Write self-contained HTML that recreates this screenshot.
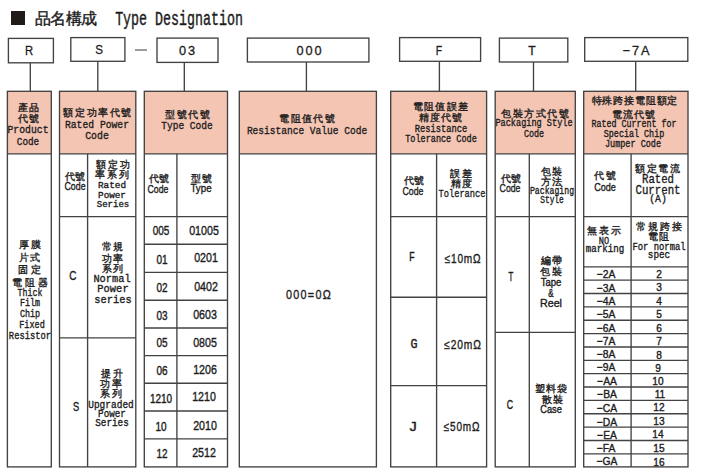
<!DOCTYPE html>
<html><head><meta charset="utf-8"><style>
html,body{margin:0;padding:0;background:#fff;width:723px;height:475px;overflow:hidden}
#wrap{position:relative;width:723px;height:475px}
svg{position:absolute;left:0;top:0}
.t{position:absolute;white-space:nowrap;line-height:1;color:#1c1c1c;transform-origin:50% 50%}
.sq{position:absolute;left:11px;top:11px;width:14px;height:14px;background:#201a18}
</style></head><body><div id="wrap">
<svg width="723" height="475" viewBox="0 0 723 475">
<rect x="8.4" y="38.4" width="45.0" height="24.4" fill="none" stroke="#424242" stroke-width="1.35"/>
<line x1="30.3" y1="62.8" x2="30.3" y2="91.3" stroke="#424242" stroke-width="1.35"/>
<rect x="70.8" y="37.6" width="54.1" height="23.7" fill="none" stroke="#424242" stroke-width="1.35"/>
<line x1="97.8" y1="61.3" x2="97.8" y2="91.3" stroke="#424242" stroke-width="1.35"/>
<rect x="157" y="38.1" width="61" height="24.3" fill="none" stroke="#424242" stroke-width="1.35"/>
<line x1="184.3" y1="62.4" x2="184.3" y2="91.3" stroke="#424242" stroke-width="1.35"/>
<rect x="247.4" y="38.1" width="121.5" height="23.9" fill="none" stroke="#424242" stroke-width="1.35"/>
<line x1="306.4" y1="62.0" x2="306.4" y2="91.3" stroke="#424242" stroke-width="1.35"/>
<rect x="399.6" y="37.6" width="81.0" height="23.7" fill="none" stroke="#424242" stroke-width="1.35"/>
<line x1="439.4" y1="61.3" x2="439.4" y2="91.3" stroke="#424242" stroke-width="1.35"/>
<rect x="499.4" y="38.1" width="68.4" height="23.9" fill="none" stroke="#424242" stroke-width="1.35"/>
<line x1="533.5" y1="62.0" x2="533.5" y2="91.3" stroke="#424242" stroke-width="1.35"/>
<rect x="584.7" y="37.6" width="103.1" height="23.7" fill="none" stroke="#424242" stroke-width="1.35"/>
<line x1="635.7" y1="61.3" x2="635.7" y2="91.3" stroke="#424242" stroke-width="1.35"/>
<line x1="135" y1="50" x2="147" y2="50" stroke="#666" stroke-width="1.3"/>
<rect x="7.4" y="91.3" width="43.9" height="62.5" fill="#f4c5b3"/>
<rect x="7.4" y="91.3" width="43.9" height="375.6" fill="none" stroke="#424242" stroke-width="1.35"/>
<line x1="7.4" y1="153.8" x2="51.3" y2="153.8" stroke="#424242" stroke-width="1.35"/>
<rect x="59.5" y="91.3" width="76.3" height="62.5" fill="#f4c5b3"/>
<rect x="59.5" y="91.3" width="76.3" height="375.6" fill="none" stroke="#424242" stroke-width="1.35"/>
<line x1="59.5" y1="153.8" x2="135.8" y2="153.8" stroke="#424242" stroke-width="1.35"/>
<line x1="87.6" y1="153.8" x2="87.6" y2="466.9" stroke="#424242" stroke-width="1.35"/>
<line x1="59.5" y1="216.6" x2="135.8" y2="216.6" stroke="#424242" stroke-width="1.35"/>
<rect x="144.3" y="91.3" width="83.2" height="62.5" fill="#f4c5b3"/>
<rect x="144.3" y="91.3" width="83.2" height="375.6" fill="none" stroke="#424242" stroke-width="1.35"/>
<line x1="144.3" y1="153.8" x2="227.5" y2="153.8" stroke="#424242" stroke-width="1.35"/>
<line x1="176.9" y1="153.8" x2="176.9" y2="466.9" stroke="#424242" stroke-width="1.35"/>
<line x1="144.3" y1="216.6" x2="227.5" y2="216.6" stroke="#424242" stroke-width="1.35"/>
<rect x="239.3" y="91.3" width="137.1" height="62.5" fill="#f4c5b3"/>
<rect x="239.3" y="91.3" width="137.1" height="375.6" fill="none" stroke="#424242" stroke-width="1.35"/>
<line x1="239.3" y1="153.8" x2="376.4" y2="153.8" stroke="#424242" stroke-width="1.35"/>
<rect x="390.7" y="91.3" width="95.9" height="62.5" fill="#f4c5b3"/>
<rect x="390.7" y="91.3" width="95.9" height="375.6" fill="none" stroke="#424242" stroke-width="1.35"/>
<line x1="390.7" y1="153.8" x2="486.6" y2="153.8" stroke="#424242" stroke-width="1.35"/>
<line x1="436.6" y1="153.8" x2="436.6" y2="466.9" stroke="#424242" stroke-width="1.35"/>
<line x1="390.7" y1="216.6" x2="486.6" y2="216.6" stroke="#424242" stroke-width="1.35"/>
<rect x="495.2" y="91.3" width="80.1" height="62.5" fill="#f4c5b3"/>
<rect x="495.2" y="91.3" width="80.1" height="375.6" fill="none" stroke="#424242" stroke-width="1.35"/>
<line x1="495.2" y1="153.8" x2="575.3" y2="153.8" stroke="#424242" stroke-width="1.35"/>
<line x1="529.3" y1="153.8" x2="529.3" y2="466.9" stroke="#424242" stroke-width="1.35"/>
<line x1="495.2" y1="216.6" x2="575.3" y2="216.6" stroke="#424242" stroke-width="1.35"/>
<rect x="583.7" y="91.3" width="104.3" height="62.5" fill="#f4c5b3"/>
<rect x="583.7" y="91.3" width="104.3" height="375.6" fill="none" stroke="#424242" stroke-width="1.35"/>
<line x1="583.7" y1="153.8" x2="688.0" y2="153.8" stroke="#424242" stroke-width="1.35"/>
<line x1="631.1" y1="153.8" x2="631.1" y2="466.9" stroke="#424242" stroke-width="1.35"/>
<line x1="583.7" y1="216.6" x2="688.0" y2="216.6" stroke="#424242" stroke-width="1.35"/>
<line x1="59.5" y1="337.8" x2="135.8" y2="337.8" stroke="#424242" stroke-width="1.35"/>
<line x1="144.3" y1="244.2" x2="227.5" y2="244.2" stroke="#424242" stroke-width="1.35"/>
<line x1="144.3" y1="272.4" x2="227.5" y2="272.4" stroke="#424242" stroke-width="1.35"/>
<line x1="144.3" y1="300.2" x2="227.5" y2="300.2" stroke="#424242" stroke-width="1.35"/>
<line x1="144.3" y1="328.0" x2="227.5" y2="328.0" stroke="#424242" stroke-width="1.35"/>
<line x1="144.3" y1="355.6" x2="227.5" y2="355.6" stroke="#424242" stroke-width="1.35"/>
<line x1="144.3" y1="383.2" x2="227.5" y2="383.2" stroke="#424242" stroke-width="1.35"/>
<line x1="144.3" y1="411.0" x2="227.5" y2="411.0" stroke="#424242" stroke-width="1.35"/>
<line x1="144.3" y1="438.8" x2="227.5" y2="438.8" stroke="#424242" stroke-width="1.35"/>
<line x1="390.7" y1="297.2" x2="486.6" y2="297.2" stroke="#424242" stroke-width="1.35"/>
<line x1="390.7" y1="385.6" x2="486.6" y2="385.6" stroke="#424242" stroke-width="1.35"/>
<line x1="495.2" y1="332.3" x2="575.3" y2="332.3" stroke="#424242" stroke-width="1.35"/>
<line x1="583.7" y1="266.8" x2="688.0" y2="266.8" stroke="#424242" stroke-width="1.35"/>
<line x1="583.7" y1="280.16" x2="688.0" y2="280.16" stroke="#424242" stroke-width="1.35"/>
<line x1="583.7" y1="293.52" x2="688.0" y2="293.52" stroke="#424242" stroke-width="1.35"/>
<line x1="583.7" y1="306.88" x2="688.0" y2="306.88" stroke="#424242" stroke-width="1.35"/>
<line x1="583.7" y1="320.24" x2="688.0" y2="320.24" stroke="#424242" stroke-width="1.35"/>
<line x1="583.7" y1="333.6" x2="688.0" y2="333.6" stroke="#424242" stroke-width="1.35"/>
<line x1="583.7" y1="346.96" x2="688.0" y2="346.96" stroke="#424242" stroke-width="1.35"/>
<line x1="583.7" y1="360.32" x2="688.0" y2="360.32" stroke="#424242" stroke-width="1.35"/>
<line x1="583.7" y1="373.68" x2="688.0" y2="373.68" stroke="#424242" stroke-width="1.35"/>
<line x1="583.7" y1="387.04" x2="688.0" y2="387.04" stroke="#424242" stroke-width="1.35"/>
<line x1="583.7" y1="400.4" x2="688.0" y2="400.4" stroke="#424242" stroke-width="1.35"/>
<line x1="583.7" y1="413.76" x2="688.0" y2="413.76" stroke="#424242" stroke-width="1.35"/>
<line x1="583.7" y1="427.12" x2="688.0" y2="427.12" stroke="#424242" stroke-width="1.35"/>
<line x1="583.7" y1="440.48" x2="688.0" y2="440.48" stroke="#424242" stroke-width="1.35"/>
<line x1="583.7" y1="453.84" x2="688.0" y2="453.84" stroke="#424242" stroke-width="1.35"/>
</svg>
<div class="sq"></div>
<div class="t" id="t0" style="left:65.73px;top:10.32px;font-size:16.20px;transform:translateX(-50%) scaleX(1.0000);font-family:'Liberation Sans', sans-serif;font-weight:normal;letter-spacing:-0.47px;-webkit-text-stroke:0.4px #1c1c1c">品名構成</div>
<div class="t" id="t1" style="left:178.87px;top:9.52px;font-size:20.18px;transform:translateX(-50%) scaleX(0.6595);font-family:'Liberation Mono', monospace;font-weight:normal;-webkit-text-stroke:0.45px #1c1c1c">Type Designation</div>
<div class="t" id="t2" style="left:29.24px;top:44.28px;font-size:13.43px;transform:translateX(-50%) scaleX(0.8380);font-family:'Liberation Sans', sans-serif;font-weight:normal;-webkit-text-stroke:0.3px #1c1c1c">R</div>
<div class="t" id="t3" style="left:98.84px;top:43.25px;font-size:13.43px;transform:translateX(-50%) scaleX(0.8645);font-family:'Liberation Sans', sans-serif;font-weight:normal;-webkit-text-stroke:0.3px #1c1c1c">S</div>
<div class="t" id="t4" style="left:187.83px;top:43.94px;font-size:13.43px;transform:translateX(-50%) scaleX(0.9500);font-family:'Liberation Sans', sans-serif;font-weight:normal;letter-spacing:1.94px;-webkit-text-stroke:0.3px #1c1c1c">03</div>
<div class="t" id="t5" style="left:310.25px;top:44.11px;font-size:13.43px;transform:translateX(-50%) scaleX(0.9500);font-family:'Liberation Sans', sans-serif;font-weight:normal;letter-spacing:2.00px;-webkit-text-stroke:0.3px #1c1c1c">000</div>
<div class="t" id="t6" style="left:438.85px;top:43.95px;font-size:13.43px;transform:translateX(-50%) scaleX(0.7728);font-family:'Liberation Sans', sans-serif;font-weight:normal;-webkit-text-stroke:0.3px #1c1c1c">F</div>
<div class="t" id="t7" style="left:532.03px;top:44.16px;font-size:13.43px;transform:translateX(-50%) scaleX(0.8983);font-family:'Liberation Sans', sans-serif;font-weight:normal;-webkit-text-stroke:0.3px #1c1c1c">T</div>
<div class="t" id="t8" style="left:637.12px;top:43.71px;font-size:13.43px;transform:translateX(-50%) scaleX(0.9500);font-family:'Liberation Sans', sans-serif;font-weight:normal;letter-spacing:1.83px;-webkit-text-stroke:0.3px #1c1c1c">−7A</div>
<div class="t" id="t9" style="left:29.02px;top:103.02px;font-size:10.00px;transform:translateX(-50%) scaleX(1.0000);font-family:'Liberation Sans', sans-serif;font-weight:normal;letter-spacing:1.39px;-webkit-text-stroke:0.35px #1c1c1c">產品</div>
<div class="t" id="t10" style="left:29.00px;top:114.18px;font-size:10.00px;transform:translateX(-50%) scaleX(1.0000);font-family:'Liberation Sans', sans-serif;font-weight:normal;letter-spacing:0.61px;-webkit-text-stroke:0.35px #1c1c1c">代號</div>
<div class="t" id="t11" style="left:28.22px;top:125.32px;font-size:11.68px;transform:translateX(-50%) scaleX(0.8359);font-family:'Liberation Mono', monospace;font-weight:normal;-webkit-text-stroke:0.35px #1c1c1c">Product</div>
<div class="t" id="t12" style="left:28.25px;top:136.82px;font-size:11.68px;transform:translateX(-50%) scaleX(0.8016);font-family:'Liberation Mono', monospace;font-weight:normal;-webkit-text-stroke:0.35px #1c1c1c">Code</div>
<div class="t" id="t13" style="left:98.10px;top:108.00px;font-size:10.00px;transform:translateX(-50%) scaleX(1.0000);font-family:'Liberation Sans', sans-serif;font-weight:normal;letter-spacing:1.54px;-webkit-text-stroke:0.35px #1c1c1c">額定功率代號</div>
<div class="t" id="t14" style="left:97.06px;top:120.08px;font-size:11.68px;transform:translateX(-50%) scaleX(0.8310);font-family:'Liberation Mono', monospace;font-weight:normal;-webkit-text-stroke:0.35px #1c1c1c">Rated Power</div>
<div class="t" id="t15" style="left:97.00px;top:131.10px;font-size:11.68px;transform:translateX(-50%) scaleX(0.8469);font-family:'Liberation Mono', monospace;font-weight:normal;-webkit-text-stroke:0.35px #1c1c1c">Code</div>
<div class="t" id="t16" style="left:188.15px;top:110.24px;font-size:10.00px;transform:translateX(-50%) scaleX(1.0000);font-family:'Liberation Sans', sans-serif;font-weight:normal;letter-spacing:1.53px;-webkit-text-stroke:0.35px #1c1c1c">型號代號</div>
<div class="t" id="t17" style="left:187.39px;top:121.08px;font-size:11.68px;transform:translateX(-50%) scaleX(0.8189);font-family:'Liberation Mono', monospace;font-weight:normal;-webkit-text-stroke:0.35px #1c1c1c">Type Code</div>
<div class="t" id="t18" style="left:307.70px;top:113.75px;font-size:10.00px;transform:translateX(-50%) scaleX(1.0000);font-family:'Liberation Sans', sans-serif;font-weight:normal;letter-spacing:1.39px;-webkit-text-stroke:0.35px #1c1c1c">電阻值代號</div>
<div class="t" id="t19" style="left:307.37px;top:125.59px;font-size:11.68px;transform:translateX(-50%) scaleX(0.8174);font-family:'Liberation Mono', monospace;font-weight:normal;-webkit-text-stroke:0.35px #1c1c1c">Resistance Value Code</div>
<div class="t" id="t20" style="left:441.06px;top:102.06px;font-size:10.00px;transform:translateX(-50%) scaleX(1.0000);font-family:'Liberation Sans', sans-serif;font-weight:normal;letter-spacing:1.31px;-webkit-text-stroke:0.35px #1c1c1c">電阻值誤差</div>
<div class="t" id="t21" style="left:441.14px;top:113.39px;font-size:10.00px;transform:translateX(-50%) scaleX(1.0000);font-family:'Liberation Sans', sans-serif;font-weight:normal;letter-spacing:1.22px;-webkit-text-stroke:0.35px #1c1c1c">精度代號</div>
<div class="t" id="t22" style="left:440.61px;top:124.47px;font-size:10.24px;transform:translateX(-50%) scaleX(0.8541);font-family:'Liberation Mono', monospace;font-weight:normal;-webkit-text-stroke:0.35px #1c1c1c">Resistance</div>
<div class="t" id="t23" style="left:441.08px;top:134.08px;font-size:10.24px;transform:translateX(-50%) scaleX(0.8341);font-family:'Liberation Mono', monospace;font-weight:normal;-webkit-text-stroke:0.35px #1c1c1c">Tolerance Code</div>
<div class="t" id="t24" style="left:535.76px;top:108.62px;font-size:10.00px;transform:translateX(-50%) scaleX(1.0000);font-family:'Liberation Sans', sans-serif;font-weight:normal;letter-spacing:1.54px;-webkit-text-stroke:0.35px #1c1c1c">包裝方式代號</div>
<div class="t" id="t25" style="left:533.96px;top:118.29px;font-size:10.24px;transform:translateX(-50%) scaleX(0.8382);font-family:'Liberation Mono', monospace;font-weight:normal;-webkit-text-stroke:0.35px #1c1c1c">Packaging Style</div>
<div class="t" id="t26" style="left:534.03px;top:129.49px;font-size:10.24px;transform:translateX(-50%) scaleX(0.8200);font-family:'Liberation Mono', monospace;font-weight:normal;-webkit-text-stroke:0.35px #1c1c1c">Code</div>
<div class="t" id="t27" style="left:634.88px;top:96.47px;font-size:10.00px;transform:translateX(-50%) scaleX(1.0000);font-family:'Liberation Sans', sans-serif;font-weight:normal;letter-spacing:0.84px;-webkit-text-stroke:0.35px #1c1c1c">特殊跨接電阻額定</div>
<div class="t" id="t28" style="left:634.33px;top:109.59px;font-size:10.00px;transform:translateX(-50%) scaleX(1.0000);font-family:'Liberation Sans', sans-serif;font-weight:normal;letter-spacing:0.92px;-webkit-text-stroke:0.35px #1c1c1c">電流代號</div>
<div class="t" id="t29" style="left:633.87px;top:118.87px;font-size:10.24px;transform:translateX(-50%) scaleX(0.8118);font-family:'Liberation Mono', monospace;font-weight:normal;-webkit-text-stroke:0.35px #1c1c1c">Rated Current for</div>
<div class="t" id="t30" style="left:634.20px;top:129.31px;font-size:10.24px;transform:translateX(-50%) scaleX(0.8194);font-family:'Liberation Mono', monospace;font-weight:normal;-webkit-text-stroke:0.35px #1c1c1c">Special Chip</div>
<div class="t" id="t31" style="left:633.21px;top:138.82px;font-size:10.24px;transform:translateX(-50%) scaleX(0.8296);font-family:'Liberation Mono', monospace;font-weight:normal;-webkit-text-stroke:0.35px #1c1c1c">Jumper Code</div>
<div class="t" id="t32" style="left:75.32px;top:171.67px;font-size:10.00px;transform:translateX(-50%) scaleX(1.0000);font-family:'Liberation Sans', sans-serif;font-weight:normal;letter-spacing:0.61px;-webkit-text-stroke:0.35px #1c1c1c">代號</div>
<div class="t" id="t33" style="left:74.68px;top:180.91px;font-size:11.57px;transform:translateX(-50%) scaleX(0.7624);font-family:'Liberation Sans', sans-serif;font-weight:normal;-webkit-text-stroke:0.38px #1c1c1c">Code</div>
<div class="t" id="t34" style="left:113.82px;top:160.25px;font-size:10.00px;transform:translateX(-50%) scaleX(1.0000);font-family:'Liberation Sans', sans-serif;font-weight:normal;letter-spacing:2.10px;-webkit-text-stroke:0.35px #1c1c1c">額定功</div>
<div class="t" id="t35" style="left:113.25px;top:170.47px;font-size:10.00px;transform:translateX(-50%) scaleX(1.0000);font-family:'Liberation Sans', sans-serif;font-weight:normal;letter-spacing:1.99px;-webkit-text-stroke:0.35px #1c1c1c">率系列</div>
<div class="t" id="t36" style="left:112.47px;top:181.29px;font-size:9.41px;transform:translateX(-50%) scaleX(0.9926);font-family:'Liberation Mono', monospace;font-weight:normal;-webkit-text-stroke:0.35px #1c1c1c">Rated</div>
<div class="t" id="t37" style="left:112.42px;top:191.04px;font-size:9.41px;transform:translateX(-50%) scaleX(0.9863);font-family:'Liberation Mono', monospace;font-weight:normal;-webkit-text-stroke:0.35px #1c1c1c">Power</div>
<div class="t" id="t38" style="left:112.56px;top:199.77px;font-size:9.41px;transform:translateX(-50%) scaleX(0.9606);font-family:'Liberation Mono', monospace;font-weight:normal;-webkit-text-stroke:0.35px #1c1c1c">Series</div>
<div class="t" id="t39" style="left:159.33px;top:174.21px;font-size:10.00px;transform:translateX(-50%) scaleX(1.0000);font-family:'Liberation Sans', sans-serif;font-weight:normal;letter-spacing:0.61px;-webkit-text-stroke:0.35px #1c1c1c">代號</div>
<div class="t" id="t40" style="left:158.30px;top:183.62px;font-size:11.57px;transform:translateX(-50%) scaleX(0.7563);font-family:'Liberation Sans', sans-serif;font-weight:normal;-webkit-text-stroke:0.38px #1c1c1c">Code</div>
<div class="t" id="t41" style="left:201.53px;top:174.30px;font-size:10.00px;transform:translateX(-50%) scaleX(1.0000);font-family:'Liberation Sans', sans-serif;font-weight:normal;letter-spacing:0.80px;-webkit-text-stroke:0.35px #1c1c1c">型號</div>
<div class="t" id="t42" style="left:200.50px;top:183.20px;font-size:11.57px;transform:translateX(-50%) scaleX(0.8426);font-family:'Liberation Sans', sans-serif;font-weight:normal;-webkit-text-stroke:0.38px #1c1c1c">Type</div>
<div class="t" id="t43" style="left:414.15px;top:176.04px;font-size:10.00px;transform:translateX(-50%) scaleX(1.0000);font-family:'Liberation Sans', sans-serif;font-weight:normal;letter-spacing:0.61px;-webkit-text-stroke:0.35px #1c1c1c">代號</div>
<div class="t" id="t44" style="left:412.90px;top:186.17px;font-size:11.57px;transform:translateX(-50%) scaleX(0.7563);font-family:'Liberation Sans', sans-serif;font-weight:normal;-webkit-text-stroke:0.38px #1c1c1c">Code</div>
<div class="t" id="t45" style="left:461.67px;top:169.08px;font-size:10.00px;transform:translateX(-50%) scaleX(1.0000);font-family:'Liberation Sans', sans-serif;font-weight:normal;letter-spacing:1.16px;-webkit-text-stroke:0.35px #1c1c1c">誤差</div>
<div class="t" id="t46" style="left:461.52px;top:179.29px;font-size:10.00px;transform:translateX(-50%) scaleX(1.0000);font-family:'Liberation Sans', sans-serif;font-weight:normal;letter-spacing:0.77px;-webkit-text-stroke:0.35px #1c1c1c">精度</div>
<div class="t" id="t47" style="left:461.66px;top:189.26px;font-size:11.84px;transform:translateX(-50%) scaleX(0.7379);font-family:'Liberation Mono', monospace;font-weight:normal;-webkit-text-stroke:0.35px #1c1c1c">Tolerance</div>
<div class="t" id="t48" style="left:511.13px;top:173.90px;font-size:10.00px;transform:translateX(-50%) scaleX(1.0000);font-family:'Liberation Sans', sans-serif;font-weight:normal;letter-spacing:0.61px;-webkit-text-stroke:0.35px #1c1c1c">代號</div>
<div class="t" id="t49" style="left:510.23px;top:183.33px;font-size:11.57px;transform:translateX(-50%) scaleX(0.7505);font-family:'Liberation Sans', sans-serif;font-weight:normal;-webkit-text-stroke:0.38px #1c1c1c">Code</div>
<div class="t" id="t50" style="left:552.38px;top:166.75px;font-size:10.00px;transform:translateX(-50%) scaleX(1.0000);font-family:'Liberation Sans', sans-serif;font-weight:normal;letter-spacing:1.18px;-webkit-text-stroke:0.35px #1c1c1c">包裝</div>
<div class="t" id="t51" style="left:552.17px;top:177.10px;font-size:10.00px;transform:translateX(-50%) scaleX(1.0000);font-family:'Liberation Sans', sans-serif;font-weight:normal;letter-spacing:0.93px;-webkit-text-stroke:0.35px #1c1c1c">方法</div>
<div class="t" id="t52" style="left:551.85px;top:187.26px;font-size:10.02px;transform:translateX(-50%) scaleX(0.8148);font-family:'Liberation Mono', monospace;font-weight:normal;-webkit-text-stroke:0.35px #1c1c1c">Packaging</div>
<div class="t" id="t53" style="left:552.39px;top:195.79px;font-size:10.02px;transform:translateX(-50%) scaleX(0.7856);font-family:'Liberation Mono', monospace;font-weight:normal;-webkit-text-stroke:0.35px #1c1c1c">Style</div>
<div class="t" id="t54" style="left:605.80px;top:171.33px;font-size:10.00px;transform:translateX(-50%) scaleX(1.0000);font-family:'Liberation Sans', sans-serif;font-weight:normal;letter-spacing:1.51px;-webkit-text-stroke:0.35px #1c1c1c">代號</div>
<div class="t" id="t55" style="left:605.21px;top:181.78px;font-size:11.57px;transform:translateX(-50%) scaleX(0.7808);font-family:'Liberation Sans', sans-serif;font-weight:normal;-webkit-text-stroke:0.38px #1c1c1c">Code</div>
<div class="t" id="t56" style="left:658.25px;top:164.48px;font-size:10.00px;transform:translateX(-50%) scaleX(1.0000);font-family:'Liberation Sans', sans-serif;font-weight:normal;letter-spacing:1.53px;-webkit-text-stroke:0.35px #1c1c1c">額定電流</div>
<div class="t" id="t57" style="left:657.84px;top:174.37px;font-size:12.67px;transform:translateX(-50%) scaleX(0.8436);font-family:'Liberation Mono', monospace;font-weight:normal;-webkit-text-stroke:0.35px #1c1c1c">Rated</div>
<div class="t" id="t58" style="left:657.93px;top:184.63px;font-size:12.67px;transform:translateX(-50%) scaleX(0.8477);font-family:'Liberation Mono', monospace;font-weight:normal;-webkit-text-stroke:0.35px #1c1c1c">Current</div>
<div class="t" id="t59" style="left:657.80px;top:194.03px;font-size:10.50px;transform:translateX(-50%) scaleX(0.9327);font-family:'Liberation Mono', monospace;font-weight:normal;-webkit-text-stroke:0.35px #1c1c1c">(A)</div>
<div class="t" id="t60" style="left:30.97px;top:239.78px;font-size:10.00px;transform:translateX(-50%) scaleX(1.0000);font-family:'Liberation Sans', sans-serif;font-weight:normal;letter-spacing:2.30px;-webkit-text-stroke:0.35px #1c1c1c">厚膜</div>
<div class="t" id="t61" style="left:30.44px;top:252.77px;font-size:10.00px;transform:translateX(-50%) scaleX(1.0000);font-family:'Liberation Sans', sans-serif;font-weight:normal;letter-spacing:1.48px;-webkit-text-stroke:0.35px #1c1c1c">片式</div>
<div class="t" id="t62" style="left:31.26px;top:264.77px;font-size:10.00px;transform:translateX(-50%) scaleX(1.0000);font-family:'Liberation Sans', sans-serif;font-weight:normal;letter-spacing:3.39px;-webkit-text-stroke:0.35px #1c1c1c">固定</div>
<div class="t" id="t63" style="left:31.16px;top:277.97px;font-size:10.00px;transform:translateX(-50%) scaleX(1.0000);font-family:'Liberation Sans', sans-serif;font-weight:normal;letter-spacing:2.76px;-webkit-text-stroke:0.35px #1c1c1c">電阻器</div>
<div class="t" id="t64" style="left:29.83px;top:288.28px;font-size:10.47px;transform:translateX(-50%) scaleX(0.7913);font-family:'Liberation Mono', monospace;font-weight:normal;-webkit-text-stroke:0.35px #1c1c1c">Thick</div>
<div class="t" id="t65" style="left:30.27px;top:298.34px;font-size:10.47px;transform:translateX(-50%) scaleX(0.8024);font-family:'Liberation Mono', monospace;font-weight:normal;-webkit-text-stroke:0.35px #1c1c1c">Film</div>
<div class="t" id="t66" style="left:29.68px;top:308.73px;font-size:10.47px;transform:translateX(-50%) scaleX(0.8031);font-family:'Liberation Mono', monospace;font-weight:normal;-webkit-text-stroke:0.35px #1c1c1c">Chip</div>
<div class="t" id="t67" style="left:32.17px;top:319.99px;font-size:10.47px;transform:translateX(-50%) scaleX(0.8191);font-family:'Liberation Mono', monospace;font-weight:normal;-webkit-text-stroke:0.35px #1c1c1c">Fixed</div>
<div class="t" id="t68" style="left:29.74px;top:330.62px;font-size:10.47px;transform:translateX(-50%) scaleX(0.8408);font-family:'Liberation Mono', monospace;font-weight:normal;-webkit-text-stroke:0.35px #1c1c1c">Resistor</div>
<div class="t" id="t69" style="left:73.31px;top:270.25px;font-size:12.78px;transform:translateX(-50%) scaleX(0.7863);font-family:'Liberation Sans', sans-serif;font-weight:normal;-webkit-text-stroke:0.38px #1c1c1c">C</div>
<div class="t" id="t70" style="left:113.43px;top:241.65px;font-size:10.00px;transform:translateX(-50%) scaleX(1.0000);font-family:'Liberation Sans', sans-serif;font-weight:normal;letter-spacing:1.37px;-webkit-text-stroke:0.35px #1c1c1c">常規</div>
<div class="t" id="t71" style="left:113.37px;top:253.51px;font-size:10.00px;transform:translateX(-50%) scaleX(1.0000);font-family:'Liberation Sans', sans-serif;font-weight:normal;letter-spacing:1.54px;-webkit-text-stroke:0.35px #1c1c1c">功率</div>
<div class="t" id="t72" style="left:113.17px;top:263.89px;font-size:10.00px;transform:translateX(-50%) scaleX(1.0000);font-family:'Liberation Sans', sans-serif;font-weight:normal;letter-spacing:1.46px;-webkit-text-stroke:0.35px #1c1c1c">系列</div>
<div class="t" id="t73" style="left:112.38px;top:273.12px;font-size:11.46px;transform:translateX(-50%) scaleX(0.9022);font-family:'Liberation Mono', monospace;font-weight:normal;-webkit-text-stroke:0.35px #1c1c1c">Normal</div>
<div class="t" id="t74" style="left:113.15px;top:282.99px;font-size:11.46px;transform:translateX(-50%) scaleX(0.9098);font-family:'Liberation Mono', monospace;font-weight:normal;-webkit-text-stroke:0.35px #1c1c1c">Power</div>
<div class="t" id="t75" style="left:112.85px;top:293.93px;font-size:11.46px;transform:translateX(-50%) scaleX(0.9052);font-family:'Liberation Mono', monospace;font-weight:normal;-webkit-text-stroke:0.35px #1c1c1c">series</div>
<div class="t" id="t76" style="left:76.18px;top:400.97px;font-size:12.78px;transform:translateX(-50%) scaleX(0.7314);font-family:'Liberation Sans', sans-serif;font-weight:normal;-webkit-text-stroke:0.38px #1c1c1c">S</div>
<div class="t" id="t77" style="left:112.63px;top:368.95px;font-size:10.00px;transform:translateX(-50%) scaleX(1.0000);font-family:'Liberation Sans', sans-serif;font-weight:normal;letter-spacing:2.05px;-webkit-text-stroke:0.35px #1c1c1c">提升</div>
<div class="t" id="t78" style="left:111.95px;top:379.25px;font-size:10.00px;transform:translateX(-50%) scaleX(1.0000);font-family:'Liberation Sans', sans-serif;font-weight:normal;letter-spacing:1.54px;-webkit-text-stroke:0.35px #1c1c1c">功率</div>
<div class="t" id="t79" style="left:112.13px;top:389.07px;font-size:10.00px;transform:translateX(-50%) scaleX(1.0000);font-family:'Liberation Sans', sans-serif;font-weight:normal;letter-spacing:2.36px;-webkit-text-stroke:0.35px #1c1c1c">系列</div>
<div class="t" id="t80" style="left:111.48px;top:400.18px;font-size:11.08px;transform:translateX(-50%) scaleX(0.8557);font-family:'Liberation Mono', monospace;font-weight:normal;-webkit-text-stroke:0.35px #1c1c1c">Upgraded</div>
<div class="t" id="t81" style="left:111.76px;top:408.59px;font-size:11.08px;transform:translateX(-50%) scaleX(0.8380);font-family:'Liberation Mono', monospace;font-weight:normal;-webkit-text-stroke:0.35px #1c1c1c">Power</div>
<div class="t" id="t82" style="left:111.64px;top:417.62px;font-size:11.08px;transform:translateX(-50%) scaleX(0.8437);font-family:'Liberation Mono', monospace;font-weight:normal;-webkit-text-stroke:0.35px #1c1c1c">Series</div>
<div class="t" id="t83" style="left:309.12px;top:288.25px;font-size:13.20px;transform:translateX(-50%) scaleX(0.8177);font-family:'Liberation Sans', sans-serif;font-weight:normal;letter-spacing:1.60px;-webkit-text-stroke:0.35px #1c1c1c">000=0Ω</div>
<div class="t" id="t84" style="left:412.27px;top:250.69px;font-size:13.00px;transform:translateX(-50%) scaleX(0.7569);font-family:'Liberation Mono', monospace;font-weight:normal;-webkit-text-stroke:0.4px #1c1c1c">F</div>
<div class="t" id="t85" style="left:462.72px;top:252.95px;font-size:12.40px;transform:translateX(-50%) scaleX(0.8135);font-family:'Liberation Sans', sans-serif;font-weight:normal;letter-spacing:1.00px;-webkit-text-stroke:0.35px #1c1c1c">≤10mΩ</div>
<div class="t" id="t86" style="left:413.62px;top:338.17px;font-size:13.00px;transform:translateX(-50%) scaleX(0.8976);font-family:'Liberation Mono', monospace;font-weight:normal;-webkit-text-stroke:0.4px #1c1c1c">G</div>
<div class="t" id="t87" style="left:462.53px;top:338.73px;font-size:12.40px;transform:translateX(-50%) scaleX(0.8249);font-family:'Liberation Sans', sans-serif;font-weight:normal;letter-spacing:1.00px;-webkit-text-stroke:0.35px #1c1c1c">≤20mΩ</div>
<div class="t" id="t88" style="left:413.26px;top:421.15px;font-size:13.00px;transform:translateX(-50%) scaleX(1.1448);font-family:'Liberation Mono', monospace;font-weight:normal;-webkit-text-stroke:0.4px #1c1c1c">J</div>
<div class="t" id="t89" style="left:462.35px;top:421.26px;font-size:12.40px;transform:translateX(-50%) scaleX(0.8087);font-family:'Liberation Sans', sans-serif;font-weight:normal;letter-spacing:1.00px;-webkit-text-stroke:0.35px #1c1c1c">≤50mΩ</div>
<div class="t" id="t90" style="left:511.42px;top:270.51px;font-size:12.14px;transform:translateX(-50%) scaleX(0.6448);font-family:'Liberation Sans', sans-serif;font-weight:normal;-webkit-text-stroke:0.38px #1c1c1c">T</div>
<div class="t" id="t91" style="left:551.72px;top:256.27px;font-size:10.00px;transform:translateX(-50%) scaleX(1.0000);font-family:'Liberation Sans', sans-serif;font-weight:normal;letter-spacing:0.96px;-webkit-text-stroke:0.35px #1c1c1c">編帶</div>
<div class="t" id="t92" style="left:551.87px;top:266.73px;font-size:10.00px;transform:translateX(-50%) scaleX(1.0000);font-family:'Liberation Sans', sans-serif;font-weight:normal;letter-spacing:2.08px;-webkit-text-stroke:0.35px #1c1c1c">包裝</div>
<div class="t" id="t93" style="left:551.31px;top:277.07px;font-size:10.71px;transform:translateX(-50%) scaleX(0.8907);font-family:'Liberation Sans', sans-serif;font-weight:normal;-webkit-text-stroke:0.38px #1c1c1c">Tape</div>
<div class="t" id="t94" style="left:551.07px;top:287.76px;font-size:10.71px;transform:translateX(-50%) scaleX(0.7430);font-family:'Liberation Sans', sans-serif;font-weight:normal;-webkit-text-stroke:0.38px #1c1c1c">&amp;</div>
<div class="t" id="t95" style="left:551.10px;top:297.55px;font-size:10.71px;transform:translateX(-50%) scaleX(0.9986);font-family:'Liberation Sans', sans-serif;font-weight:normal;-webkit-text-stroke:0.38px #1c1c1c">Reel</div>
<div class="t" id="t96" style="left:510.23px;top:398.78px;font-size:12.14px;transform:translateX(-50%) scaleX(0.7253);font-family:'Liberation Sans', sans-serif;font-weight:normal;-webkit-text-stroke:0.38px #1c1c1c">C</div>
<div class="t" id="t97" style="left:551.63px;top:383.98px;font-size:10.00px;transform:translateX(-50%) scaleX(1.0000);font-family:'Liberation Sans', sans-serif;font-weight:normal;letter-spacing:1.19px;-webkit-text-stroke:0.35px #1c1c1c">塑料袋</div>
<div class="t" id="t98" style="left:552.55px;top:394.76px;font-size:10.00px;transform:translateX(-50%) scaleX(1.0000);font-family:'Liberation Sans', sans-serif;font-weight:normal;letter-spacing:0.73px;-webkit-text-stroke:0.35px #1c1c1c">散裝</div>
<div class="t" id="t99" style="left:551.41px;top:404.01px;font-size:10.71px;transform:translateX(-50%) scaleX(0.8610);font-family:'Liberation Sans', sans-serif;font-weight:normal;-webkit-text-stroke:0.38px #1c1c1c">Case</div>
<div class="t" id="t100" style="left:605.27px;top:225.70px;font-size:10.00px;transform:translateX(-50%) scaleX(1.0000);font-family:'Liberation Sans', sans-serif;font-weight:normal;letter-spacing:1.99px;-webkit-text-stroke:0.35px #1c1c1c">無表示</div>
<div class="t" id="t101" style="left:604.49px;top:235.59px;font-size:10.47px;transform:translateX(-50%) scaleX(0.8180);font-family:'Liberation Mono', monospace;font-weight:normal;-webkit-text-stroke:0.35px #1c1c1c">NO</div>
<div class="t" id="t102" style="left:605.02px;top:244.06px;font-size:10.47px;transform:translateX(-50%) scaleX(0.8761);font-family:'Liberation Mono', monospace;font-weight:normal;-webkit-text-stroke:0.35px #1c1c1c">marking</div>
<div class="t" id="t103" style="left:659.77px;top:221.80px;font-size:10.00px;transform:translateX(-50%) scaleX(1.0000);font-family:'Liberation Sans', sans-serif;font-weight:normal;letter-spacing:1.83px;-webkit-text-stroke:0.35px #1c1c1c">常規跨接</div>
<div class="t" id="t104" style="left:658.98px;top:232.02px;font-size:10.00px;transform:translateX(-50%) scaleX(1.0000);font-family:'Liberation Sans', sans-serif;font-weight:normal;letter-spacing:1.22px;-webkit-text-stroke:0.35px #1c1c1c">電阻</div>
<div class="t" id="t105" style="left:658.82px;top:241.52px;font-size:10.47px;transform:translateX(-50%) scaleX(0.8471);font-family:'Liberation Mono', monospace;font-weight:normal;-webkit-text-stroke:0.35px #1c1c1c">For normal</div>
<div class="t" id="t106" style="left:659.41px;top:250.20px;font-size:10.47px;transform:translateX(-50%) scaleX(0.8878);font-family:'Liberation Mono', monospace;font-weight:normal;-webkit-text-stroke:0.35px #1c1c1c">spec</div>
<div class="t" id="t107" style="left:161.30px;top:226.40px;font-size:11.94px;transform:translateX(-50%) scaleX(0.8347);font-family:'Liberation Sans', sans-serif;font-weight:normal;-webkit-text-stroke:0.38px #1c1c1c">005</div>
<div class="t" id="t108" style="left:204.22px;top:223.86px;font-size:13.33px;transform:translateX(-50%) scaleX(0.8002);font-family:'Liberation Sans', sans-serif;font-weight:normal;-webkit-text-stroke:0.38px #1c1c1c">01005</div>
<div class="t" id="t109" style="left:162.03px;top:255.14px;font-size:11.94px;transform:translateX(-50%) scaleX(0.8347);font-family:'Liberation Sans', sans-serif;font-weight:normal;-webkit-text-stroke:0.38px #1c1c1c">01</div>
<div class="t" id="t110" style="left:205.61px;top:251.30px;font-size:13.33px;transform:translateX(-50%) scaleX(0.8002);font-family:'Liberation Sans', sans-serif;font-weight:normal;-webkit-text-stroke:0.38px #1c1c1c">0201</div>
<div class="t" id="t111" style="left:161.51px;top:282.80px;font-size:11.94px;transform:translateX(-50%) scaleX(0.8347);font-family:'Liberation Sans', sans-serif;font-weight:normal;-webkit-text-stroke:0.38px #1c1c1c">02</div>
<div class="t" id="t112" style="left:205.56px;top:279.86px;font-size:13.33px;transform:translateX(-50%) scaleX(0.8002);font-family:'Liberation Sans', sans-serif;font-weight:normal;-webkit-text-stroke:0.38px #1c1c1c">0402</div>
<div class="t" id="t113" style="left:161.81px;top:310.71px;font-size:11.94px;transform:translateX(-50%) scaleX(0.8347);font-family:'Liberation Sans', sans-serif;font-weight:normal;-webkit-text-stroke:0.38px #1c1c1c">03</div>
<div class="t" id="t114" style="left:205.33px;top:307.95px;font-size:13.33px;transform:translateX(-50%) scaleX(0.8002);font-family:'Liberation Sans', sans-serif;font-weight:normal;-webkit-text-stroke:0.38px #1c1c1c">0603</div>
<div class="t" id="t115" style="left:161.80px;top:338.43px;font-size:11.94px;transform:translateX(-50%) scaleX(0.8347);font-family:'Liberation Sans', sans-serif;font-weight:normal;-webkit-text-stroke:0.38px #1c1c1c">05</div>
<div class="t" id="t116" style="left:205.33px;top:335.71px;font-size:13.33px;transform:translateX(-50%) scaleX(0.8002);font-family:'Liberation Sans', sans-serif;font-weight:normal;-webkit-text-stroke:0.38px #1c1c1c">0805</div>
<div class="t" id="t117" style="left:162.06px;top:365.93px;font-size:11.94px;transform:translateX(-50%) scaleX(0.8347);font-family:'Liberation Sans', sans-serif;font-weight:normal;-webkit-text-stroke:0.38px #1c1c1c">06</div>
<div class="t" id="t118" style="left:205.23px;top:363.44px;font-size:13.33px;transform:translateX(-50%) scaleX(0.8002);font-family:'Liberation Sans', sans-serif;font-weight:normal;-webkit-text-stroke:0.38px #1c1c1c">1206</div>
<div class="t" id="t119" style="left:161.01px;top:394.19px;font-size:11.94px;transform:translateX(-50%) scaleX(0.8347);font-family:'Liberation Sans', sans-serif;font-weight:normal;-webkit-text-stroke:0.38px #1c1c1c">1210</div>
<div class="t" id="t120" style="left:204.48px;top:390.32px;font-size:13.33px;transform:translateX(-50%) scaleX(0.8002);font-family:'Liberation Sans', sans-serif;font-weight:normal;-webkit-text-stroke:0.38px #1c1c1c">1210</div>
<div class="t" id="t121" style="left:161.23px;top:421.65px;font-size:11.94px;transform:translateX(-50%) scaleX(0.8347);font-family:'Liberation Sans', sans-serif;font-weight:normal;-webkit-text-stroke:0.38px #1c1c1c">10</div>
<div class="t" id="t122" style="left:205.31px;top:418.64px;font-size:13.33px;transform:translateX(-50%) scaleX(0.8002);font-family:'Liberation Sans', sans-serif;font-weight:normal;-webkit-text-stroke:0.38px #1c1c1c">2010</div>
<div class="t" id="t123" style="left:161.61px;top:449.09px;font-size:11.94px;transform:translateX(-50%) scaleX(0.8347);font-family:'Liberation Sans', sans-serif;font-weight:normal;-webkit-text-stroke:0.38px #1c1c1c">12</div>
<div class="t" id="t124" style="left:203.80px;top:446.30px;font-size:13.33px;transform:translateX(-50%) scaleX(0.8002);font-family:'Liberation Sans', sans-serif;font-weight:normal;-webkit-text-stroke:0.38px #1c1c1c">2512</div>
<div class="t" id="t125" style="left:606.16px;top:269.49px;font-size:11.29px;transform:translateX(-50%) scaleX(0.9146);font-family:'Liberation Sans', sans-serif;font-weight:normal;-webkit-text-stroke:0.38px #1c1c1c">−2A</div>
<div class="t" id="t126" style="left:658.70px;top:269.33px;font-size:11.29px;transform:translateX(-50%) scaleX(0.8983);font-family:'Liberation Sans', sans-serif;font-weight:normal;-webkit-text-stroke:0.38px #1c1c1c">2</div>
<div class="t" id="t127" style="left:606.16px;top:282.85px;font-size:11.29px;transform:translateX(-50%) scaleX(0.9146);font-family:'Liberation Sans', sans-serif;font-weight:normal;-webkit-text-stroke:0.38px #1c1c1c">−3A</div>
<div class="t" id="t128" style="left:659.27px;top:282.45px;font-size:11.29px;transform:translateX(-50%) scaleX(0.8983);font-family:'Liberation Sans', sans-serif;font-weight:normal;-webkit-text-stroke:0.38px #1c1c1c">3</div>
<div class="t" id="t129" style="left:606.16px;top:295.96px;font-size:11.29px;transform:translateX(-50%) scaleX(0.9146);font-family:'Liberation Sans', sans-serif;font-weight:normal;-webkit-text-stroke:0.38px #1c1c1c">−4A</div>
<div class="t" id="t130" style="left:659.03px;top:295.98px;font-size:11.29px;transform:translateX(-50%) scaleX(0.8983);font-family:'Liberation Sans', sans-serif;font-weight:normal;-webkit-text-stroke:0.38px #1c1c1c">4</div>
<div class="t" id="t131" style="left:606.16px;top:309.22px;font-size:11.29px;transform:translateX(-50%) scaleX(0.9146);font-family:'Liberation Sans', sans-serif;font-weight:normal;-webkit-text-stroke:0.38px #1c1c1c">−5A</div>
<div class="t" id="t132" style="left:658.84px;top:309.02px;font-size:11.29px;transform:translateX(-50%) scaleX(0.8983);font-family:'Liberation Sans', sans-serif;font-weight:normal;-webkit-text-stroke:0.38px #1c1c1c">5</div>
<div class="t" id="t133" style="left:606.16px;top:323.03px;font-size:11.29px;transform:translateX(-50%) scaleX(0.9146);font-family:'Liberation Sans', sans-serif;font-weight:normal;-webkit-text-stroke:0.38px #1c1c1c">−6A</div>
<div class="t" id="t134" style="left:659.06px;top:322.60px;font-size:11.29px;transform:translateX(-50%) scaleX(0.8983);font-family:'Liberation Sans', sans-serif;font-weight:normal;-webkit-text-stroke:0.38px #1c1c1c">6</div>
<div class="t" id="t135" style="left:606.16px;top:336.31px;font-size:11.29px;transform:translateX(-50%) scaleX(0.9146);font-family:'Liberation Sans', sans-serif;font-weight:normal;-webkit-text-stroke:0.38px #1c1c1c">−7A</div>
<div class="t" id="t136" style="left:659.05px;top:335.90px;font-size:11.29px;transform:translateX(-50%) scaleX(0.8983);font-family:'Liberation Sans', sans-serif;font-weight:normal;-webkit-text-stroke:0.38px #1c1c1c">7</div>
<div class="t" id="t137" style="left:606.16px;top:349.29px;font-size:11.29px;transform:translateX(-50%) scaleX(0.9146);font-family:'Liberation Sans', sans-serif;font-weight:normal;-webkit-text-stroke:0.38px #1c1c1c">−8A</div>
<div class="t" id="t138" style="left:658.87px;top:349.76px;font-size:11.29px;transform:translateX(-50%) scaleX(0.8983);font-family:'Liberation Sans', sans-serif;font-weight:normal;-webkit-text-stroke:0.38px #1c1c1c">8</div>
<div class="t" id="t139" style="left:606.16px;top:362.42px;font-size:11.29px;transform:translateX(-50%) scaleX(0.9146);font-family:'Liberation Sans', sans-serif;font-weight:normal;-webkit-text-stroke:0.38px #1c1c1c">−9A</div>
<div class="t" id="t140" style="left:658.31px;top:363.15px;font-size:11.29px;transform:translateX(-50%) scaleX(0.8983);font-family:'Liberation Sans', sans-serif;font-weight:normal;-webkit-text-stroke:0.38px #1c1c1c">9</div>
<div class="t" id="t141" style="left:606.79px;top:376.15px;font-size:11.29px;transform:translateX(-50%) scaleX(0.9146);font-family:'Liberation Sans', sans-serif;font-weight:normal;-webkit-text-stroke:0.38px #1c1c1c">−AA</div>
<div class="t" id="t142" style="left:658.43px;top:376.13px;font-size:11.29px;transform:translateX(-50%) scaleX(0.8983);font-family:'Liberation Sans', sans-serif;font-weight:normal;-webkit-text-stroke:0.38px #1c1c1c">10</div>
<div class="t" id="t143" style="left:606.79px;top:389.46px;font-size:11.29px;transform:translateX(-50%) scaleX(0.9146);font-family:'Liberation Sans', sans-serif;font-weight:normal;-webkit-text-stroke:0.38px #1c1c1c">−BA</div>
<div class="t" id="t144" style="left:659.56px;top:389.28px;font-size:11.29px;transform:translateX(-50%) scaleX(0.8983);font-family:'Liberation Sans', sans-serif;font-weight:normal;-webkit-text-stroke:0.38px #1c1c1c">11</div>
<div class="t" id="t145" style="left:606.82px;top:402.77px;font-size:11.29px;transform:translateX(-50%) scaleX(0.9146);font-family:'Liberation Sans', sans-serif;font-weight:normal;-webkit-text-stroke:0.38px #1c1c1c">−CA</div>
<div class="t" id="t146" style="left:658.89px;top:402.39px;font-size:11.29px;transform:translateX(-50%) scaleX(0.8983);font-family:'Liberation Sans', sans-serif;font-weight:normal;-webkit-text-stroke:0.38px #1c1c1c">12</div>
<div class="t" id="t147" style="left:606.82px;top:416.52px;font-size:11.29px;transform:translateX(-50%) scaleX(0.9146);font-family:'Liberation Sans', sans-serif;font-weight:normal;-webkit-text-stroke:0.38px #1c1c1c">−DA</div>
<div class="t" id="t148" style="left:659.17px;top:416.31px;font-size:11.29px;transform:translateX(-50%) scaleX(0.8983);font-family:'Liberation Sans', sans-serif;font-weight:normal;-webkit-text-stroke:0.38px #1c1c1c">13</div>
<div class="t" id="t149" style="left:606.79px;top:429.64px;font-size:11.29px;transform:translateX(-50%) scaleX(0.9146);font-family:'Liberation Sans', sans-serif;font-weight:normal;-webkit-text-stroke:0.38px #1c1c1c">−EA</div>
<div class="t" id="t150" style="left:658.43px;top:429.44px;font-size:11.29px;transform:translateX(-50%) scaleX(0.8983);font-family:'Liberation Sans', sans-serif;font-weight:normal;-webkit-text-stroke:0.38px #1c1c1c">14</div>
<div class="t" id="t151" style="left:606.16px;top:442.90px;font-size:11.29px;transform:translateX(-50%) scaleX(0.9146);font-family:'Liberation Sans', sans-serif;font-weight:normal;-webkit-text-stroke:0.38px #1c1c1c">−FA</div>
<div class="t" id="t152" style="left:658.86px;top:442.77px;font-size:11.29px;transform:translateX(-50%) scaleX(0.8983);font-family:'Liberation Sans', sans-serif;font-weight:normal;-webkit-text-stroke:0.38px #1c1c1c">15</div>
<div class="t" id="t153" style="left:606.72px;top:456.17px;font-size:11.29px;transform:translateX(-50%) scaleX(0.9146);font-family:'Liberation Sans', sans-serif;font-weight:normal;-webkit-text-stroke:0.38px #1c1c1c">−GA</div>
<div class="t" id="t154" style="left:659.17px;top:456.60px;font-size:11.29px;transform:translateX(-50%) scaleX(0.8983);font-family:'Liberation Sans', sans-serif;font-weight:normal;-webkit-text-stroke:0.38px #1c1c1c">16</div>
</div></body></html>
